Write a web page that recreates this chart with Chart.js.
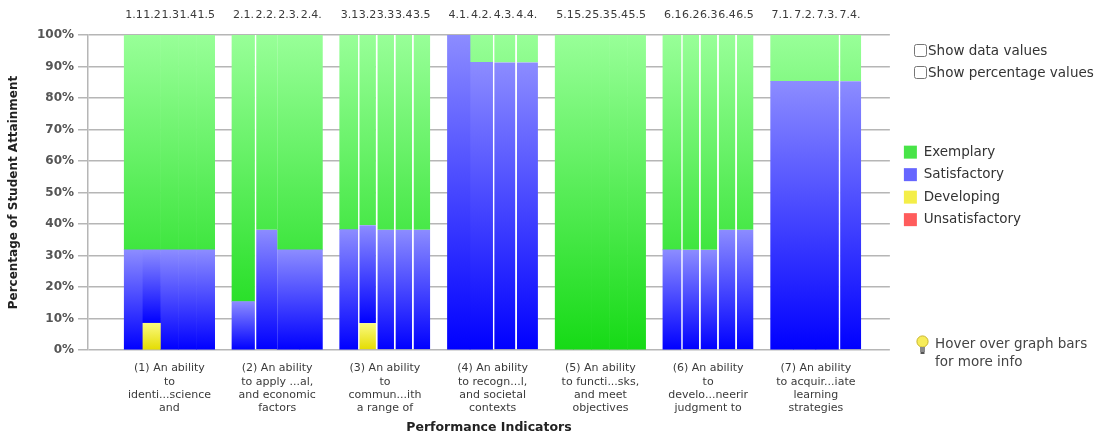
<!DOCTYPE html>
<html>
<head>
<meta charset="utf-8">
<script src="https://cdn.jsdelivr.net/npm/chart.js@4.4.1/dist/chart.umd.min.js"></script>
<style>
  html, body { margin: 0; padding: 0; background: #fff; }
  #wrap { position: relative; width: 1103px; height: 436px; }
  #chart { position: absolute; left: 0; top: 0; }
  .opt { position: absolute; left: 914px; font: 13.5px "DejaVu Sans", sans-serif; color: #333; display: flex; align-items: center; }
  .opt input { margin: 0 1px 0 0; width: 13px; height: 13px; }
  #hint { position: absolute; left: 916px; top: 334px; font: 13.5px/18px "DejaVu Sans", sans-serif; color: #444; display: flex; }
  #hint svg { margin-right: 6px; margin-top: 1px; }
</style>
</head>
<body>
<div id="wrap">
  <canvas id="chart" width="1103" height="436"></canvas>
  <label class="opt" style="top:42px"><input type="checkbox">Show data values</label>
  <label class="opt" style="top:64px"><input type="checkbox">Show percentage values</label>
  <div id="hint">
    <svg width="13" height="22" viewBox="0 0 13 22"><circle cx="6.5" cy="6.5" r="5.6" fill="#f7ec5a" stroke="#c8b42a" stroke-width="1"/><rect x="4" y="12" width="5" height="5" fill="#8a8a8a"/><rect x="4.5" y="17" width="4" height="2" fill="#555"/></svg>
    <div>Hover over graph bars<br>for more info</div>
  </div>
</div>
<script>
// outcome groups (x axis) and their performance indicators (top labels)
const groupLabels = [
  ["(1) An ability", "to", "identi...science", "and"],
  ["(2) An ability", "to apply ...al,", "and economic", "factors"],
  ["(3) An ability", "to", "commun...ith", "a range of"],
  ["(4) An ability", "to recogn...l,", "and societal", "contexts"],
  ["(5) An ability", "to functi...sks,", "and meet", "objectives"],
  ["(6) An ability", "to", "develo...neerir", "judgment to"],
  ["(7) An ability", "to acquir...iate", "learning", "strategies"]
];
const indicators = [
  ["1.1", "1.2", "1.3", "1.4", "1.5"],
  ["2.1.", "2.2.", "2.3.", "2.4."],
  ["3.1", "3.2", "3.3", "3.4", "3.5"],
  ["4.1.", "4.2.", "4.3.", "4.4."],
  ["5.1", "5.2", "5.3", "5.4", "5.5"],
  ["6.1", "6.2", "6.3", "6.4", "6.5"],
  ["7.1.", "7.2.", "7.3.", "7.4."]
];

// percentages per indicator
const unsatisfactory = [
  [0, 0, 0, 0, 0], [0, 0, 0, 0], [0, 0, 0, 0, 0], [0, 0, 0, 0],
  [0, 0, 0, 0, 0], [0, 0, 0, 0, 0], [0, 0, 0, 0]
];
const developing = [
  [0, 8.5, 0, 0, 0], [0, 0, 0, 0], [0, 8.5, 0, 0, 0], [0, 0, 0, 0],
  [0, 0, 0, 0, 0], [0, 0, 0, 0, 0], [0, 0, 0, 0]
];
const satisfactory = [
  [31.8, 23.3, 31.8, 31.8, 31.8],
  [15.4, 38.2, 31.8, 31.8],
  [38.2, 31.1, 38.2, 38.2, 38.2],
  [100, 91.3, 91.3, 91.3],
  [0, 0, 0, 0, 0],
  [31.8, 31.8, 31.8, 38.2, 38.2],
  [85.3, 85.3, 85.3, 85.3]
];
const exemplary = [
  [68.2, 68.2, 68.2, 68.2, 68.2],
  [84.6, 61.8, 68.2, 68.2],
  [61.8, 60.4, 61.8, 61.8, 61.8],
  [0, 8.7, 8.7, 8.7],
  [100, 100, 100, 100, 100],
  [68.2, 68.2, 68.2, 61.8, 61.8],
  [14.7, 14.7, 14.7, 14.7]
];
const yTickLabels = ["0%", "10%", "20%", "30%", "40%", "50%", "60%", "70%", "80%", "90%", "100%"];

// bottom to top
const levels = [
  { label: "Unsatisfactory", values: unsatisfactory },
  { label: "Developing", values: developing },
  { label: "Satisfactory", values: satisfactory },
  { label: "Exemplary", values: exemplary }
];
// gradient top / bottom colours, plus legend swatch
const shades = [
  ["#ff9a9a", "#ee2a2a", "#ff5c5c"],
  ["#fafa80", "#e4dc00", "#f4ee48"],
  ["#8c8cff", "#0000ff", "#6666ff"],
  ["#98ff98", "#16da16", "#48e448"]
];
// indicators whose bar shows a thin white line on its left side
const divided = ["2.2.", "3.2", "3.3", "3.4", "3.5", "4.3.", "4.4.", "6.2", "6.3", "6.4", "6.5", "7.4."];

function fillFor(li) {
  return c => {
    const chart = c.chart, area = chart.chartArea, y = chart.scales.y;
    const st = shades[li];
    if (!area || c.type !== "data" || !y) return st[2];
    if (!c.raw.y) return "rgba(0,0,0,0)";
    let top, bot;
    if (li === 3) {
      top = area.top; bot = area.bottom;
    } else {
      const g = c.raw.x, s = c.dataset.slot;
      let base = 0;
      for (let k = 0; k < li; k++) base += levels[k].values[g][s];
      top = y.getPixelForValue(base + levels[li].values[g][s]);
      bot = y.getPixelForValue(base);
    }
    const gr = chart.ctx.createLinearGradient(0, top, 0, bot);
    gr.addColorStop(0, st[0]);
    gr.addColorStop(1, st[1]);
    return gr;
  };
}

function sepFor(c) {
  if (c.type !== "data" || !c.raw.y) return 0;
  const name = indicators[c.raw.x][c.dataset.slot];
  return divided.includes(name) ? { left: 2, right: 0, top: 0, bottom: 0 } : 0;
}

const maxSlots = Math.max(...indicators.map(g => g.length));
const datasets = [];
for (let s = 0; s < maxSlots; s++) {
  levels.forEach((lv, li) => {
    const data = [];
    indicators.forEach((ind, g) => {
      if (s < ind.length) data.push({ x: g, y: lv.values[g][s] });
    });
    datasets.push({
      label: lv.label,
      data,
      stack: "s" + s,
      slot: s,
      backgroundColor: fillFor(li),
      borderColor: "#ffffff",
      borderWidth: sepFor
    });
  });
}

// indicator codes above each bar
const topLabels = {
  id: "topLabels",
  afterDatasetsDraw(chart) {
    const ctx = chart.ctx;
    ctx.save();
    ctx.font = "11px 'DejaVu Sans'";
    ctx.fillStyle = "#3a3a3a";
    ctx.textAlign = "left";
    ctx.textBaseline = "middle";
    chart.data.datasets.forEach((ds, di) => {
      if (ds.label !== "Exemplary") return;
      chart.getDatasetMeta(di).data.forEach((bar, i) => {
        const p = bar.getProps(["x", "width"], true);
        const raw = ds.data[i];
        ctx.fillText(indicators[raw.x][ds.slot], p.x - p.width / 2 + 1, chart.chartArea.top - 20);
      });
    });
    ctx.restore();
  }
};

const font = { family: "'DejaVu Sans'" };

new Chart(document.getElementById("chart"), {
  type: "bar",
  data: { datasets },
  plugins: [topLabels],
  options: {
    responsive: false,
    animation: false,
    events: [],
    layout: { padding: { left: 7, top: 35, right: 72, bottom: 0 } },
    datasets: {
      bar: { barPercentage: 1, categoryPercentage: 0.84, skipNull: true, inflateAmount: 0.3 }
    },
    plugins: {
      tooltip: { enabled: false },
      legend: {
        position: "right",
        fullSize: false,
        // empty title with negative padding lifts the item column a little
        title: { display: true, text: " ", font: { size: 1 }, padding: { top: -7.2, bottom: -7.2 } },
        labels: {
          boxWidth: 13,
          boxHeight: 13,
          padding: 9,
          color: "#333",
          font: { ...font, size: 13.5 },
          generateLabels: () => levels.slice().reverse().map(lv => ({
            text: lv.label,
            fillStyle: shades[levels.indexOf(lv)][2],
            strokeStyle: shades[levels.indexOf(lv)][2],
            fontColor: "#333",
            lineWidth: 0,
            hidden: false
          }))
        }
      }
    },
    scales: {
      x: {
        type: "linear",
        offset: false,
        min: -0.756,
        max: 6.687,
        afterBuildTicks: s => { s.ticks = groupLabels.map((_, i) => ({ value: i })); },
        ticks: {
          callback: v => groupLabels[v],
          color: "#3a3a3a",
          font: { ...font, size: 11, lineHeight: 1.2 },
          padding: 12,
          maxRotation: 0,
          autoSkip: false
        },
        grid: { display: false, drawTicks: false },
        border: { display: false },
        title: {
          display: true,
          text: "Performance Indicators",
          color: "#222",
          font: { ...font, size: 12.5, weight: "bold" },
          padding: { top: 2, bottom: 1 }
        },
        afterFit: s => { s.height = 86; }
      },
      y: {
        stacked: true,
        min: 0,
        max: 100,
        ticks: {
          stepSize: 10,
          callback: v => yTickLabels[Math.round(v / 10)],
          color: "#555",
          font: { ...font, size: 12, weight: "bold" },
          padding: 4
        },
        grid: { color: "#b6b6b6", lineWidth: 1.5, tickLength: 10 },
        border: { color: "#b6b6b6", width: 1.5 },
        title: {
          display: true,
          text: "Percentage of Student Attainment",
          color: "#222",
          font: { ...font, size: 12, weight: "bold" },
          padding: { top: 0, bottom: 0 }
        },
        afterFit: s => { s.width = 81; }
      },
      yR: {
        position: "right",
        grid: { display: false, drawTicks: false },
        ticks: { display: false },
        border: { display: false },
        afterFit: s => { s.width = 5; }
      }
    }
  }
});
</script>
</body>
</html>
